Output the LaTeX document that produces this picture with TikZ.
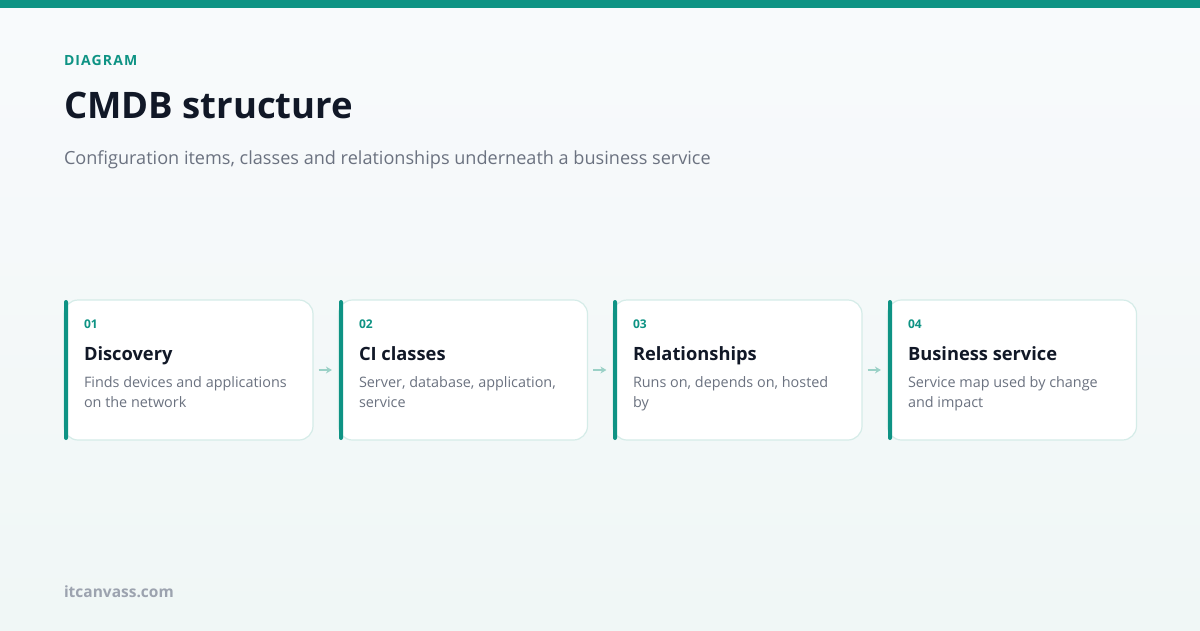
\documentclass[tikz,border=0pt]{standalone}
\usepackage{fontspec}
\setmainfont{Open Sans}
\usetikzlibrary{calc,arrows.meta}
\definecolor{brand}{HTML}{0E9384}
\definecolor{ink}{HTML}{111827}
\definecolor{muted}{HTML}{6B7280}
\definecolor{faint}{HTML}{9CA3AF}
\definecolor{cardline}{HTML}{D5ECE8}
\definecolor{arrowc}{HTML}{9BD1C7}
\definecolor{bgA}{HTML}{F8FAFC}
\definecolor{bgB}{HTML}{F0F7F6}
\tikzset{
  txt/.style={anchor=base west, inner sep=0pt, outer sep=0pt},
  card/.style={draw=cardline, line width=1.2pt, fill=white, rounded corners=14pt,
    minimum width=249pt, minimum height=140pt, inner sep=0pt},
  accent/.style={fill=brand, rounded corners=2pt},
  num/.style={txt, text=brand, font=\fontsize{12}{14}\selectfont\bfseries},
  ctitle/.style={txt, text=ink, font=\fontsize{18.3}{22}\selectfont\bfseries},
  cdesc/.style={txt, text=muted, font=\fontsize{14.4}{20}\selectfont},
  flow/.style={draw=arrowc, line width=1.6pt, -{Stealth[length=6pt,width=7pt]}, shorten <=5pt, shorten >=6pt},
}
\begin{document}
\begin{tikzpicture}[x=1pt,y=-1pt]
\useasboundingbox (0,0) rectangle (1200,630);
\shade[top color=bgA, bottom color=bgB] (0,0) rectangle (1200,630);
\fill[brand] (0,0) rectangle (1200,8);

\node[txt, text=brand, font=\fontsize{14}{16}\selectfont\bfseries\addfontfeature{LetterSpace=8}] (kicker) at (64,65) {DIAGRAM};
\node[txt, text=ink, font=\fontsize{36.5}{40}\selectfont\bfseries] (title) at (64,118) {CMDB structure};
\node[txt, text=muted, font=\fontsize{18.1}{22}\selectfont] (sub) at (64,164) {Configuration items, classes and relationships underneath a business service};
\node[txt, text=faint, font=\fontsize{15.5}{18}\selectfont\bfseries] (foot) at (64,597) {itcanvass.com};

% cards
\node[card] (c1) at (188.5,370) {};
\node[card] (c2) at (463,370) {};
\node[card] (c3) at (737.5,370) {};
\node[card] (c4) at (1012,370) {};

\fill[accent] (64,300) rectangle (68,440);
\fill[accent] (339,300) rectangle (343,440);
\fill[accent] (613,300) rectangle (617,440);
\fill[accent] (888,300) rectangle (892,440);

\node[num] (n1) at (84,328) {01};
\node[ctitle] (t1) at (84,360) {Discovery};
\node[cdesc] (d1a) at (84,387) {Finds devices and applications};
\node[cdesc] (d1b) at (84,407) {on the network};

\node[num] (n2) at (359,328) {02};
\node[ctitle] (t2) at (359,360) {CI classes};
\node[cdesc] (d2a) at (359,387) {Server, database, application,};
\node[cdesc] (d2b) at (359,407) {service};

\node[num] (n3) at (633,328) {03};
\node[ctitle] (t3) at (633,360) {Relationships};
\node[cdesc] (d3a) at (633,387) {Runs on, depends on, hosted};
\node[cdesc] (d3b) at (633,407) {by};

\node[num] (n4) at (908,328) {04};
\node[ctitle] (t4) at (908,360) {Business service};
\node[cdesc] (d4a) at (908,387) {Service map used by change};
\node[cdesc] (d4b) at (908,407) {and impact};

\draw[flow] (c1.east) -- (c2.west);
\draw[flow] (c2.east) -- (c3.west);
\draw[flow] (c3.east) -- (c4.west);
\end{tikzpicture}
\end{document}
